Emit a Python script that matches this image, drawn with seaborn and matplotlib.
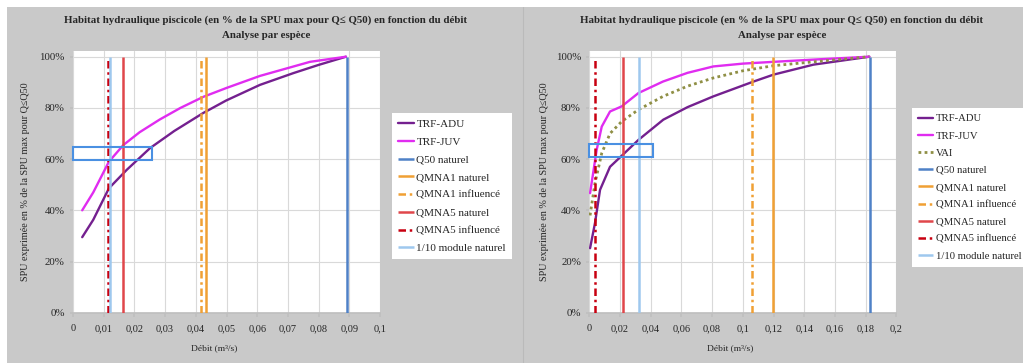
import matplotlib
matplotlib.use("Agg")
import matplotlib.pyplot as plt
import seaborn as sns
from matplotlib.patches import Rectangle
from matplotlib.ticker import PercentFormatter, FuncFormatter, MultipleLocator

# --- data ---
title_lines = ["Habitat hydraulique piscicole (en % de la SPU max pour Q≤ Q50) en fonction du débit",
               "Analyse par espèce"]
ylabel_txt = "SPU exprimée en % de la SPU max pour Q≤Q50"
xlabel_txt = "Débit (m³/s)"

# left station
left_q_adu = [0.003, 0.0066, 0.0117, 0.0175, 0.0251, 0.0330, 0.0424, 0.0499, 0.0609, 0.0718, 0.0800, 0.0889]
left_adu = [0.295, 0.363, 0.486, 0.558, 0.643, 0.710, 0.780, 0.829, 0.890, 0.936, 0.968, 1.0]
left_q_juv = [0.003, 0.0066, 0.0117, 0.0164, 0.0217, 0.0283, 0.0350, 0.0424, 0.0500, 0.0609, 0.0772, 0.0889]
left_juv = [0.40, 0.47, 0.59, 0.655, 0.705, 0.755, 0.800, 0.843, 0.878, 0.925, 0.980, 1.0]
left_refs = {"Q50 naturel": 0.0891, "QMNA1 naturel": 0.0433, "QMNA1 influencé": 0.0417,
             "QMNA5 naturel": 0.0164, "QMNA5 influencé": 0.0115, "1/10 module naturel": 0.0120}
left_box = [0.0, 0.0256, 0.595, 0.647]  # x0, x1, y0, y1

# right station
right_q_adu = [0.0005, 0.0037, 0.0070, 0.0135, 0.0211, 0.0320, 0.0482, 0.0640, 0.0808,
               0.1070, 0.1200, 0.1460, 0.1824]
right_adu = [0.252, 0.350, 0.480, 0.570, 0.613, 0.675, 0.754, 0.803, 0.845,
             0.903, 0.930, 0.969, 1.0]
right_q_juv = [0.0005, 0.0048, 0.0081, 0.0135, 0.0211, 0.0320, 0.0480, 0.0640, 0.0808,
               0.1000, 0.1200, 0.1500, 0.1824]
right_juv = [0.467, 0.636, 0.727, 0.786, 0.806, 0.858, 0.903, 0.937, 0.962,
             0.973, 0.980, 0.990, 1.0]
right_q_vai = [0.0005, 0.0037, 0.0081, 0.0135, 0.0211, 0.0320, 0.0480, 0.0640, 0.0808,
               0.1000, 0.1200, 0.1460, 0.1824]
right_vai = [0.380, 0.506, 0.623, 0.700, 0.747, 0.793, 0.845, 0.885, 0.917,
             0.945, 0.965, 0.980, 1.0]
right_refs = {"Q50 naturel": 0.1831, "QMNA1 naturel": 0.1197, "QMNA1 influencé": 0.1062,
              "QMNA5 naturel": 0.0217, "QMNA5 influencé": 0.0039, "1/10 module naturel": 0.0324}
right_box = [0.0, 0.0413, 0.608, 0.660]

# --- styles ---
dashdot = (0, (3, 1.5, 1, 1.5))
curve_styles = {
    "TRF-ADU": dict(color="#74208f", lw=1.7, ls="-"),
    "TRF-JUV": dict(color="#e02cf0", lw=1.7, ls="-"),
    "VAI": dict(color="#8f8f45", lw=2.0, ls=(0, (1, 1.2))),
}
ref_styles = {
    "Q50 naturel": dict(color="#4f81c7", lw=1.8, ls="-"),
    "QMNA1 naturel": dict(color="#f0a034", lw=1.8, ls="-"),
    "QMNA1 influencé": dict(color="#f0a034", lw=1.8, ls=dashdot),
    "QMNA5 naturel": dict(color="#e0464a", lw=1.8, ls="-"),
    "QMNA5 influencé": dict(color="#c80010", lw=1.8, ls=dashdot),
    "1/10 module naturel": dict(color="#9ec8ee", lw=1.8, ls="-"),
}
ref_order = ["Q50 naturel", "QMNA1 naturel", "QMNA1 influencé",
             "QMNA5 naturel", "QMNA5 influencé", "1/10 module naturel"]

W, H = 1023, 363
GRAY = "#c9c9c9"

sns.set_theme(style="whitegrid")
plt.rcParams["font.family"] = ["Liberation Serif", "DejaVu Serif"]
plt.rcParams["grid.color"] = "#d9d9d9"
plt.rcParams["grid.linewidth"] = 0.8


def comma_fmt(v, pos):
    s = f"{round(v, 3):g}"
    return s.replace(".", ",")


def draw_panel(fig, px_left, xmax, xstep, curves, refs, box, title_cx, legend_xy,
               ylab_x, leg_font, leg_space):
    ax = fig.add_axes([px_left / W, (H - 312.7) / H, 307 / W, 262 / H])
    ax.set_facecolor("white")

    for name, qs, vals in curves:
        st = curve_styles[name]
        sns.lineplot(x=qs, y=vals, ax=ax, color=st["color"], linewidth=st["lw"],
                     linestyle=st["ls"], label=name, zorder=3)
    for name in ref_order:
        st = ref_styles[name]
        ax.vlines(refs[name], 0, 1, colors=st["color"], linewidth=st["lw"],
                  linestyles=[st["ls"]], label=name, zorder=4)

    x0, x1, y0, y1 = box
    ax.add_patch(Rectangle((x0, y0), x1 - x0, y1 - y0, fill=False,
                           edgecolor="#4a90e2", lw=1.5, zorder=6, clip_on=False))

    ax.set_xlim(0, xmax)
    ax.set_ylim(0, 1.0235)
    ax.xaxis.set_major_locator(MultipleLocator(xstep))
    ax.yaxis.set_major_locator(MultipleLocator(0.2))
    ax.xaxis.set_major_formatter(FuncFormatter(comma_fmt))
    ax.yaxis.set_major_formatter(PercentFormatter(1.0, decimals=0))
    ax.grid(True)
    for s in ["top", "right", "left"]:
        ax.spines[s].set_visible(False)
    ax.spines["bottom"].set_color("#bfbfbf")
    ax.tick_params(axis="x", length=3, color="#bfbfbf", pad=5, labelsize=7.5, bottom=True)
    ax.tick_params(axis="y", length=2, color="#bfbfbf", pad=4, labelsize=7.8, left=True)

    ax.set_xlabel(xlabel_txt, fontsize=6.8)
    ax.xaxis.set_label_coords(0.459, -0.122)
    ax.set_ylabel(ylabel_txt, fontsize=7.3)
    ax.yaxis.set_label_coords(ylab_x, 0.5)

    fig.text(title_cx / W, 1 - 20 / H, title_lines[0], ha="center", va="center",
             fontsize=7.8, fontweight="bold")
    fig.text(title_cx / W, 1 - 35 / H, title_lines[1], ha="center", va="center",
             fontsize=7.8, fontweight="bold")

    handles, labels = ax.get_legend_handles_labels()
    leg = ax.legend(handles, labels, loc="upper left",
                    bbox_to_anchor=(legend_xy[0] / W, 1 - legend_xy[1] / H),
                    bbox_transform=fig.transFigure, borderaxespad=0, fontsize=leg_font,
                    frameon=True, fancybox=False, framealpha=1, edgecolor="white",
                    handlelength=1.4, handletextpad=0.25, labelspacing=leg_space,
                    borderpad=0.55)
    leg.get_frame().set_linewidth(0)
    return ax


fig = plt.figure(figsize=(W / 100, H / 100), dpi=100)
fig.patch.set_facecolor("white")
fig.patches.append(Rectangle((7 / W, 0), (523 - 7) / W, (H - 7) / H, transform=fig.transFigure,
                             facecolor=GRAY, edgecolor="none", zorder=-10))
fig.patches.append(Rectangle((523 / W, 0), (W - 523) / W, (H - 7) / H, transform=fig.transFigure,
                             facecolor=GRAY, edgecolor="none", zorder=-10))
fig.lines.append(plt.Line2D([523 / W, 523 / W], [0, (H - 7) / H], transform=fig.transFigure,
                            color="#bababa", lw=0.8))

draw_panel(fig, 73, 0.1, 0.01,
           [("TRF-ADU", left_q_adu, left_adu), ("TRF-JUV", left_q_juv, left_juv)],
           left_refs, left_box, 266, (392, 113), -0.14, 8, 0.72)
draw_panel(fig, 589.3, 0.2, 0.02,
           [("TRF-ADU", right_q_adu, right_adu), ("TRF-JUV", right_q_juv, right_juv),
            ("VAI", right_q_vai, right_vai)],
           right_refs, right_box, 782, (912, 108), -0.131, 7.7, 0.72)

fig.savefig("out.png", dpi=100)
